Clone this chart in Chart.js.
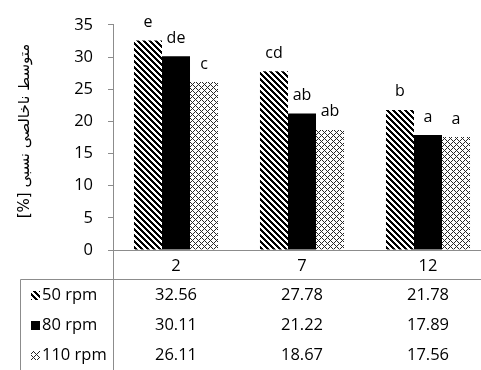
<!DOCTYPE html>
<html>
<head>
<meta charset="utf-8">
<script src="https://cdn.jsdelivr.net/npm/chart.js@4.4.1/dist/chart.umd.min.js"></script>
<style>
html,body{margin:0;padding:0;overflow:hidden;background:#fff;}
#wrap{position:absolute;left:0;top:0;width:495px;height:370px;}
</style>
</head>
<body>
<div id="wrap"><canvas id="c" width="495" height="370"></canvas></div>
<script>
const categories = ['2', '7', '12'];
const seriesNames = ['50 rpm', '80 rpm', '110 rpm'];
const values50 = [32.56, 27.78, 21.78];
const values80 = [30.11, 21.22, 17.89];
const values110 = [26.11, 18.67, 17.56];
const letters50 = ['e', 'cd', 'b'];
const letters80 = ['de', 'ab', 'a'];
const letters110 = ['c', 'ab', 'a'];
const yTicks = [0, 5, 10, 15, 20, 25, 30, 35];
const yTitle = 'متوسط ناخالصی نسبی [%]';

function makeTile(size, fn) {
  const t = document.createElement('canvas');
  t.width = size; t.height = size;
  const tc = t.getContext('2d');
  const img = tc.createImageData(size, size);
  for (let y = 0; y < size; y++) for (let x = 0; x < size; x++) {
    const v = fn(x, y);
    const i = (y * size + x) * 4;
    img.data[i] = v; img.data[i+1] = v; img.data[i+2] = v; img.data[i+3] = 255;
  }
  tc.putImageData(img, 0, 0);
  return t;
}
const ctx = document.getElementById('c').getContext('2d');
const stripeTile = makeTile(6, (x, y) => (((x - y) % 6 + 6) % 6) < 3 ? 0 : 255);
const crossTile = makeTile(6, (x, y) => ((x + y) % 6 === 0 || (((x - y) % 6 + 6) % 6) === 0) ? 40 : 255);
const stripePat = ctx.createPattern(stripeTile, 'repeat');
const crossPat = ctx.createPattern(crossTile, 'repeat');
const fills = [stripePat, '#000000', crossPat];
const allValues = [values50, values80, values110];
const allLetters = [letters50, letters80, letters110];

const FONT = '"Open Sans", "Liberation Sans", sans-serif';
const AXIS = '#8c8c8c';

const extras = {
  id: 'extras',
  afterDraw(chart) {
    const c = chart.ctx;
    const xs = chart.scales.x;
    const area = chart.chartArea;
    c.save();
    // letters above bars
    c.font = '16px ' + FONT;
    c.fillStyle = '#000';
    c.textAlign = 'center';
    c.textBaseline = 'middle';
    chart.data.datasets.forEach((ds, di) => {
      const meta = chart.getDatasetMeta(di);
      meta.data.forEach((bar, i) => {
        c.fillText(allLetters[di][i], bar.x, bar.y - 18);
      });
    });
    // table lines
    c.strokeStyle = AXIS;
    c.lineWidth = 1;
    c.beginPath();
    c.moveTo(area.left + 0.5, area.bottom);
    c.lineTo(area.left + 0.5, 370);
    c.moveTo(20.5, 279.5);
    c.lineTo(chart.width, 279.5);
    c.moveTo(20.5, 279.5);
    c.lineTo(20.5, 370);
    c.stroke();
    // table rows
    const rowY = [295, 325, 355];
    seriesNames.forEach((name, si) => {
      const y = rowY[si];
      c.fillStyle = fills[si];
      c.fillRect(31, y - 4, 9, 9);
      c.fillStyle = '#000';
      c.textAlign = 'left';
      c.font = '16.5px ' + FONT;
      c.fillText(name, 42, y);
      c.textAlign = 'center';
      allValues[si].forEach((v, i) => {
        c.fillText(v.toFixed(2), xs.getPixelForValue(i), y);
      });
    });
    // y title
    c.translate(25, 131);
    c.rotate(-Math.PI / 2);
    c.direction = 'rtl';
    c.textAlign = 'center';
    c.textBaseline = 'middle';
    c.font = '15px "DejaVu Sans", sans-serif';
    c.fillStyle = '#000';
    c.fillText(yTitle, 0, 0);
    c.restore();
  }
};

new Chart(document.getElementById('c'), {
  type: 'bar',
  data: {
    labels: categories,
    datasets: seriesNames.map((n, i) => ({
      label: n,
      data: allValues[i],
      backgroundColor: fills[i],
      borderWidth: 0,
      categoryPercentage: 0.667,
      barPercentage: 1.0
    }))
  },
  options: {
    responsive: false,
    animation: false,
    devicePixelRatio: 1,
    layout: { padding: { top: 15, right: 4, left: 0, bottom: 0 } },
    plugins: { legend: { display: false }, tooltip: { enabled: false } },
    scales: {
      x: {
        grid: { display: false, drawTicks: false },
        border: { color: AXIS, width: 1 },
        ticks: { font: { size: 16.5, family: FONT }, color: '#000', padding: 6 },
        afterFit(s) { s.height = 120; }
      },
      y: {
        min: 0, max: 35,
        afterBuildTicks(s) { s.ticks = yTicks.map(v => ({ value: v })); },
        grid: { drawOnChartArea: false, drawTicks: true, tickLength: 5, color: AXIS },
        border: { color: AXIS, width: 1 },
        ticks: { font: { size: 16.5, family: FONT }, color: '#000', padding: 15 },
        afterFit(s) { s.width = 113; }
      }
    }
  },
  plugins: [extras]
});
</script>
</body>
</html>
